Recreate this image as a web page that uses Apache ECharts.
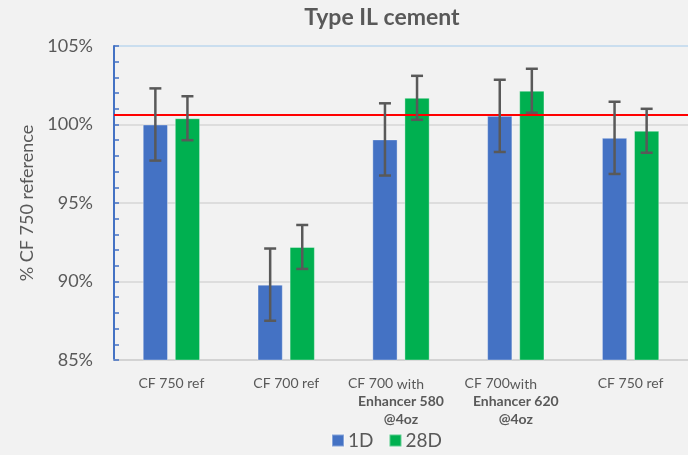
<!DOCTYPE html>
<html>
<head>
<meta charset="utf-8">
<script src="https://cdn.jsdelivr.net/npm/echarts@6/dist/echarts.min.js"></script>
<style>
  html, body { margin: 0; padding: 0; background: #f2f2f2; }
  #chart { width: 688px; height: 455px; }
</style>
</head>
<body>
<div id="chart"></div>
<script>
// data
const categories = [
  'CF 750 ref',
  'CF 700 ref',
  '{n|CF 700 }{w|with}{p|}\n{b|Enhancer 580}\n{b|@4oz}',
  '{n|CF 700}{w|with}{p|}\n{b|Enhancer 620}\n{b|@4oz}',
  'CF 750 ref'
]
const values1D = [100.0, 89.8, 99.05, 100.55, 99.15]
const values28D = [100.4, 92.2, 101.7, 102.15, 99.6]
const err1D = [2.3, 2.3, 2.3, 2.3, 2.3]
const err28D = [1.4, 1.4, 1.4, 1.4, 1.4]
const refLine = 100.6
const yTicks = { min: 85, max: 105, interval: 5 }

const FONT = 'Lato'
const GRAY = '#595959'
const BLUE = '#4472c4'
const GREEN = '#00b050'

// bar width / gap as share of the category band
const BAR_W = 0.22
const BAR_GAP = 0.27

function errorBars(values, errs, side) {
  return {
    type: 'custom',
    silent: true,
    z: 5,
    data: values.map((v, i) => [i, v, errs[i]]),
    renderItem(params, api) {
      const band = api.size([1, 0])[0]
      const off = side * band * (BAR_W + BAR_W * BAR_GAP) / 2
      const top = api.coord([api.value(0), api.value(1) + api.value(2)])
      const bot = api.coord([api.value(0), api.value(1) - api.value(2)])
      const x = top[0] + off
      const cap = 6
      const style = { stroke: GRAY, lineWidth: 2.5 }
      return {
        type: 'group',
        children: [
          { type: 'line', shape: { x1: x, y1: top[1], x2: x, y2: bot[1] }, style },
          { type: 'line', shape: { x1: x - cap, y1: top[1], x2: x + cap, y2: top[1] }, style },
          { type: 'line', shape: { x1: x - cap, y1: bot[1], x2: x + cap, y2: bot[1] }, style }
        ]
      }
    }
  }
}

const myChart = echarts.init(document.getElementById('chart'))
const option = {
  backgroundColor: '#f2f2f2',
  textStyle: { fontFamily: FONT },
  title: {
    text: 'Type IL cement',
    left: 377,
    textAlign: 'center',
    top: 1,
    textStyle: { fontFamily: FONT, fontSize: 23, fontWeight: 'bold', color: GRAY }
  },
  legend: {
    data: ['1D', '28D'],
    left: 326,
    bottom: 0,
    itemWidth: 12,
    itemHeight: 12,
    itemGap: 15,
    icon: 'rect',
    textStyle: { fontFamily: FONT, fontSize: 19, color: GRAY, padding: [0, 0, 0, -1] }
  },
  grid: { left: 114, top: 46, width: 583, height: 314 },
  xAxis: {
    type: 'category',
    data: categories,
    axisTick: { show: false },
    axisLine: { lineStyle: { color: '#d0d0d0', width: 1.5 } },
    axisLabel: {
      interval: 0,
      margin: 14,
      fontFamily: FONT,
      fontSize: 14,
      color: GRAY,
      lineHeight: 18,
      rich: {
        n: { fontFamily: FONT, fontSize: 14, color: GRAY, lineHeight: 18 },
        w: { fontFamily: FONT, fontSize: 14, color: GRAY, lineHeight: 18, padding: [3, 0, 0, 0] },
        b: { fontFamily: FONT, fontSize: 14, fontWeight: 'bold', color: GRAY, lineHeight: 18 },
        p: { width: 30 }
      }
    }
  },
  yAxis: {
    type: 'value',
    min: yTicks.min,
    max: yTicks.max,
    interval: yTicks.interval,
    name: '% CF 750 reference',
    nameLocation: 'middle',
    nameGap: 78,
    nameTextStyle: { fontFamily: FONT, fontSize: 18, color: GRAY },
    axisLine: { show: true, lineStyle: { color: BLUE, width: 2 } },
    axisTick: { show: true, inside: true, length: 5, lineStyle: { color: BLUE, width: 1.5 } },
    minorTick: { show: true, splitNumber: 5, length: 5, lineStyle: { color: BLUE, width: 1.5 } },
    axisLabel: {
      margin: 21,
      fontFamily: FONT,
      fontSize: 18,
      color: GRAY,
      formatter: v => v + '%'
    },
    splitLine: {
      lineStyle: { color: ['#d6d6d6', '#d6d6d6', '#d6d6d6', '#d6d6d6', '#bdd7ee'], width: 1.5 }
    }
  },
  series: [
    {
      name: '1D',
      type: 'bar',
      data: values1D,
      barWidth: (BAR_W * 100) + '%',
      barGap: (BAR_GAP * 100) + '%',
      itemStyle: { color: BLUE, borderColor: 'rgba(255,255,255,0.35)', borderWidth: 1 },
      markLine: {
        silent: true,
        symbol: 'none',
        label: { show: false },
        lineStyle: { color: '#ff0000', width: 2, type: 'solid' },
        data: [{ yAxis: refLine }]
      }
    },
    {
      name: '28D',
      type: 'bar',
      data: values28D,
      barWidth: (BAR_W * 100) + '%',
      itemStyle: { color: GREEN, borderColor: 'rgba(255,255,255,0.35)', borderWidth: 1 }
    },
    errorBars(values1D, err1D, -1),
    errorBars(values28D, err28D, 1)
  ]
}
myChart.setOption(option)
</script>
</body>
</html>
